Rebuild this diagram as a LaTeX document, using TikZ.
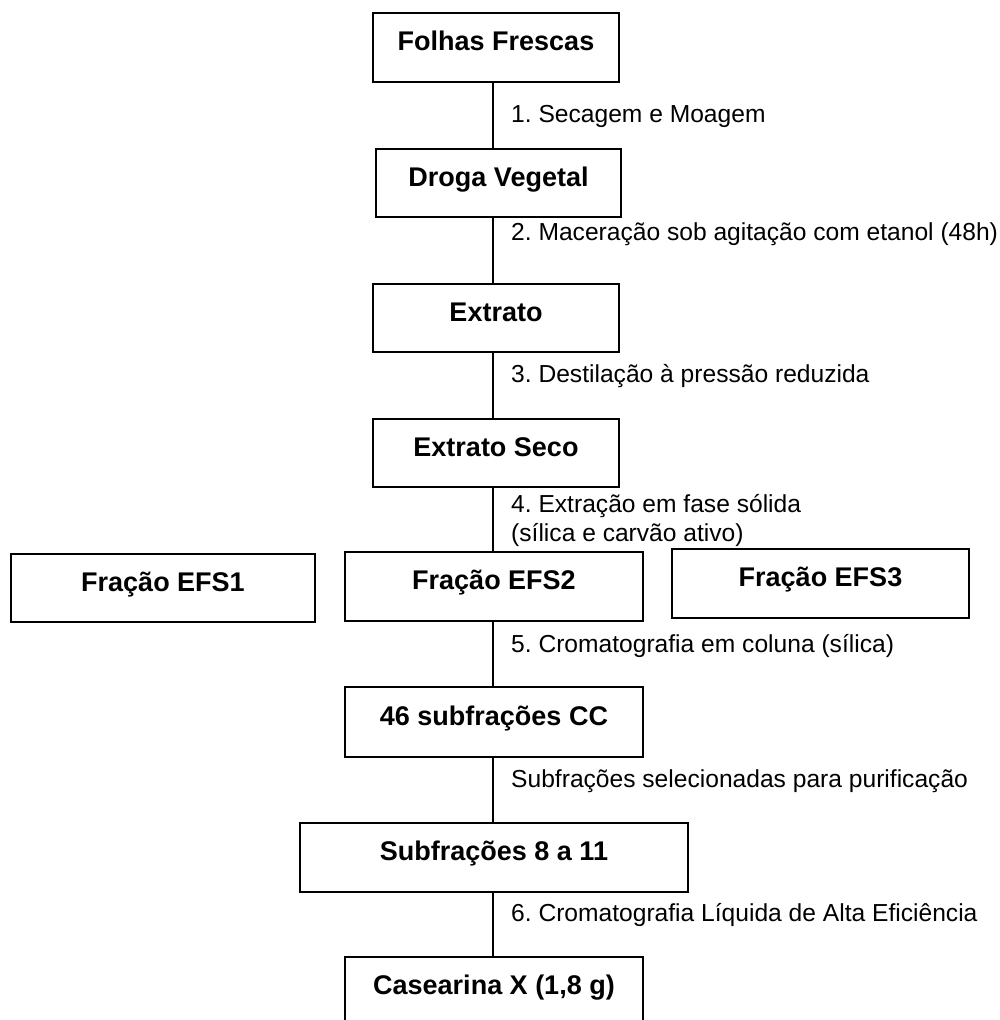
\documentclass[tikz,border=0pt]{standalone}
\usepackage{fontspec}
\setmainfont{Liberation Sans}
\frenchspacing
\begin{document}
\begin{tikzpicture}[x=1pt,y=-1pt,
  box/.style={draw, line width=1.5pt, inner sep=0pt, font=\bfseries\fontsize{27}{32}\selectfont,
    text height=20pt, text depth=13.6pt},
  lbl/.style={anchor=base west, inner sep=0pt, font=\fontsize{24.6}{29}\selectfont},
  conn/.style={line width=1.2pt}]
\useasboundingbox (0,0) rectangle (999,1020);
\clip (0,0) rectangle (999,1020);
\fill[white] (0,0) rectangle (999,1020);
\coordinate (axis) at (493,0);
\node[box, minimum width=246pt, minimum height=69pt] (F) at (496,47.5) {Folhas Frescas};
\node[box, minimum width=245pt, minimum height=68pt] (D) at (498.5,183) {Droga Vegetal};
\node[box, minimum width=246pt, minimum height=68pt] (E) at (496,318) {Extrato};
\node[box, minimum width=246pt, minimum height=68pt] (ES) at (496,453) {Extrato Seco};
\node[box, minimum width=304pt, minimum height=68pt] (EFS1) at (163,588) {Fração EFS1};
\node[box, minimum width=298pt, minimum height=69pt] (EFS2) at (494,586.5) {Fração EFS2};
\node[box, minimum width=297pt, minimum height=69pt] (EFS3) at (820.5,583.5) {Fração EFS3};
\node[box, minimum width=298pt, minimum height=70pt] (CC) at (494,722) {46 subfrações CC};
\node[box, minimum width=388pt, minimum height=69pt] (S) at (494,857.5) {Subfrações 8 a 11};
\node[box, minimum width=298pt, minimum height=69pt] (CX) at (494,991.5) {Casearina X (1,8 g)};
\draw[conn] (F.south -| axis) -- (D.north -| axis);
\draw[conn] (D.south -| axis) -- (E.north -| axis);
\draw[conn] (E.south -| axis) -- (ES.north -| axis);
\draw[conn] (ES.south -| axis) -- (EFS2.north -| axis);
\draw[conn] (EFS2.south -| axis) -- (CC.north -| axis);
\draw[conn] (CC.south -| axis) -- (S.north -| axis);
\draw[conn] (S.south -| axis) -- (CX.north -| axis);
\node[lbl] (l1) at (511,122) {1. Secagem e Moagem};
\node[lbl] (l2) at (511,240) {2. Maceração sob agitação com etanol (48h)};
\node[lbl] (l3) at (511,382) {3. Destilação à pressão reduzida};
\node[lbl] (l4a) at (511,512) {4. Extração em fase sólida};
\node[lbl] (l4b) at (511,541) {(sílica e carvão ativo)};
\node[lbl] (l5) at (511,652) {5. Cromatografia em coluna (sílica)};
\node[lbl] (l6) at (511,787) {Subfrações selecionadas para purificação};
\node[lbl] (l7) at (511,921) {6. Cromatografia Líquida de Alta Eficiência};
\end{tikzpicture}
\end{document}
